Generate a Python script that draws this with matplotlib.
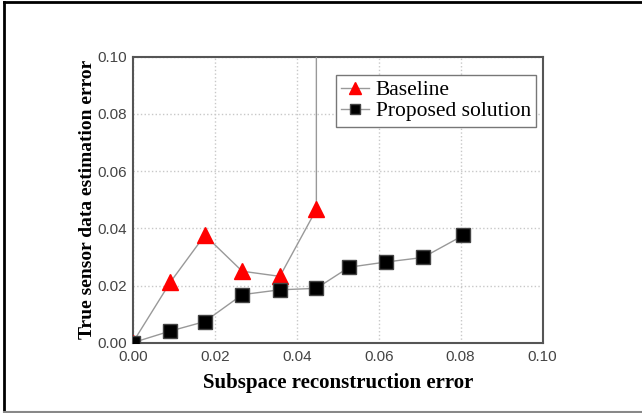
import matplotlib.pyplot as plt

# data
base_x = [0.0, 0.0092, 0.0176, 0.0267, 0.0359, 0.0448, 0.0448]
base_y = [0.0, 0.0212, 0.0376, 0.0250, 0.0232, 0.0466, 1.0]
prop_x = [0.0, 0.0090, 0.0176, 0.0267, 0.0359, 0.0448, 0.0528, 0.0617, 0.0708, 0.0806]
prop_y = [0.0, 0.0040, 0.0074, 0.0168, 0.0185, 0.0190, 0.0264, 0.0282, 0.0298, 0.0375]

ticks = [0.0, 0.02, 0.04, 0.06, 0.08, 0.10]
tick_labels = ["0.00", "0.02", "0.04", "0.06", "0.08", "0.10"]

fig = plt.figure(figsize=(6.42, 4.13), dpi=100)
ax = fig.add_axes([0.2067, 0.1702, 0.6386, 0.6925])

ax.plot(base_x, base_y, "-", color="#999999", lw=1.0, marker="^", ms=12,
        mfc="#ff0000", mec="#ff0000", label="Baseline", zorder=3)
ax.plot(prop_x, prop_y, "-", color="#999999", lw=1.0, marker="s", ms=10,
        mfc="black", mec="#444444", label="Proposed solution", zorder=3)

ax.set_xlim(0, 0.10)
ax.set_ylim(0, 0.10)
ax.set_xticks(ticks)
ax.set_xticklabels(tick_labels)
ax.set_yticks(ticks)
ax.set_yticklabels(tick_labels)
ax.tick_params(length=0, labelsize=11, labelcolor="#444444")
ax.tick_params(axis="x", pad=5)
ax.tick_params(axis="y", pad=4)
for lab in ax.get_xticklabels() + ax.get_yticklabels():
    lab.set_family("Liberation Sans")

ax.grid(True, color="#c8c8c8", ls=":", lw=1.0)
for s in ax.spines.values():
    s.set_color("#555555")
    s.set_linewidth(1.5)

ax.set_xlabel("Subspace reconstruction error", family="Liberation Serif",
              fontweight="bold", fontsize=15, labelpad=7)
ax.set_ylabel("True sensor data estimation error", family="Liberation Serif",
              fontweight="bold", fontsize=14, labelpad=1)

leg = ax.legend(loc="upper right", bbox_to_anchor=(0.984, 0.937),
                prop={"family": "Liberation Serif", "size": 15.5},
                fancybox=False, edgecolor="#777777", framealpha=1,
                handlelength=1.3, handletextpad=0.3, borderpad=0.25,
                labelspacing=0.05, borderaxespad=0, markerscale=0.75)
leg.get_frame().set_linewidth(1.0)

# outer frame of the picture
fig.add_artist(plt.Line2D([0.007, 0.007], [0.0, 0.995], color="black", lw=2,
                          transform=fig.transFigure))
fig.add_artist(plt.Line2D([0.007, 1.0], [0.995, 0.995], color="black", lw=2,
                          transform=fig.transFigure))
fig.add_artist(plt.Line2D([0.007, 1.0], [0.003, 0.003], color="#888888", lw=1.5,
                          transform=fig.transFigure))

fig.savefig("out.png", dpi=100)
